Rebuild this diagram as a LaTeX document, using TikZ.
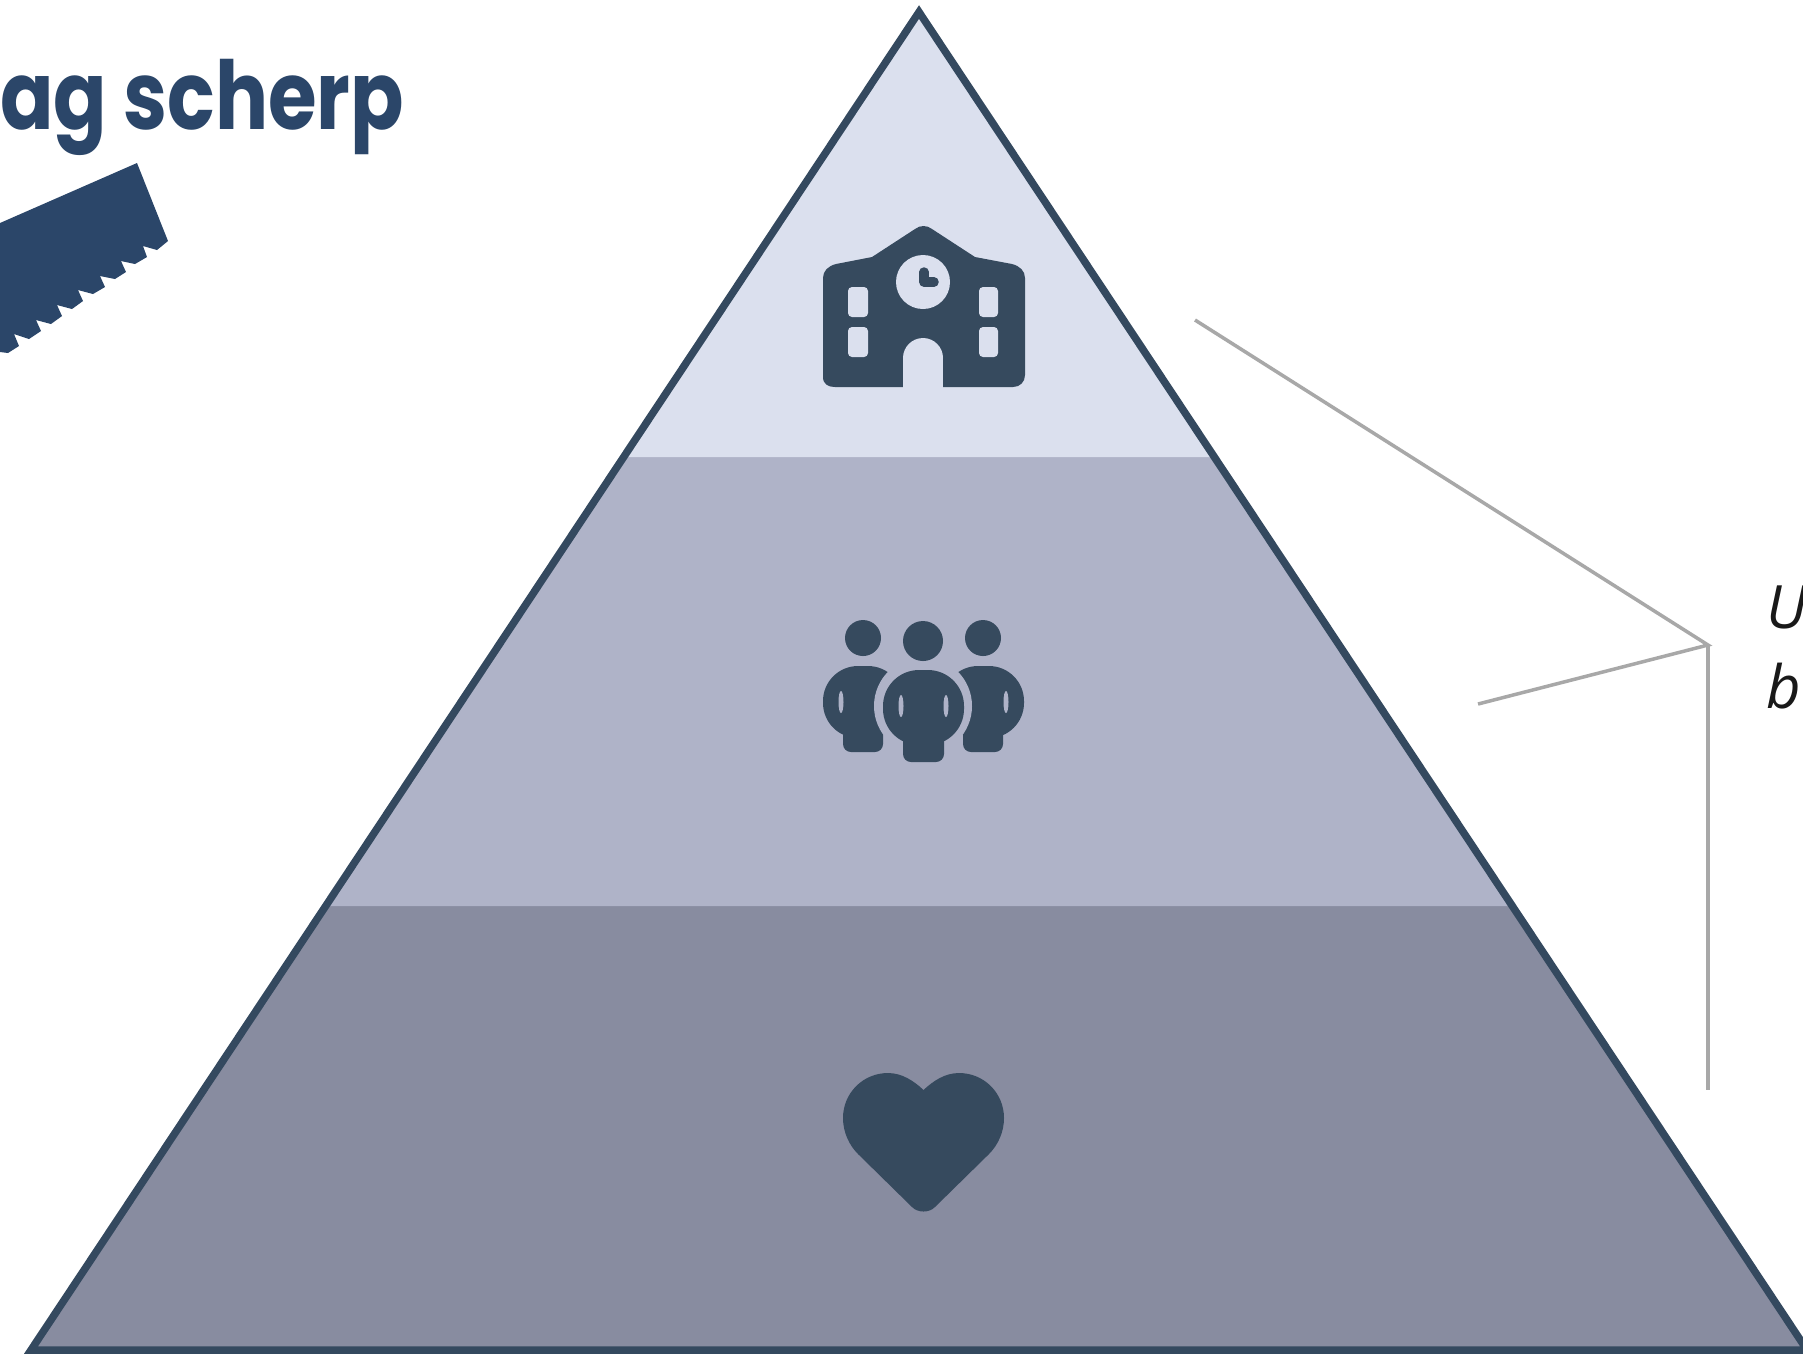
\documentclass[tikz,border=0pt]{standalone}
\usepackage{fontspec}
\setmainfont{Open Sans}
\newfontfamily\titlefont[FakeStretch=0.83]{Poppins}
\usepackage{tikz}

\definecolor{topband}{HTML}{DBE0EE}
\definecolor{midband}{HTML}{AFB3C8}
\definecolor{lowband}{HTML}{888CA0}
\definecolor{iconblue}{HTML}{364A5E}
\definecolor{rimblue}{HTML}{34495F}
\definecolor{sawblue}{HTML}{2B4669}
\definecolor{calloutgray}{HTML}{A8A8A8}

\begin{document}
\begin{tikzpicture}[x=0.01cm,y=-0.01cm,
  every node/.style={inner sep=0pt, outer sep=0pt},
  icon/.style={fill=iconblue},
  callout/.style={draw=calloutgray, line width=0.035cm},
  titletext/.style={text=sawblue, anchor=base west, font=\titlefont\bfseries\fontsize{27}{32}\selectfont},
  sidetext/.style={text=black!90, anchor=base west, font=\itshape\fontsize{17}{20}\selectfont}]
\clip (0,0) rectangle (1803,1353);
\fill[white] (0,0) rectangle (1803,1353);

\fill[lowband] (29,1351) -- (324,906) -- (1514,906) -- (1809,1351) -- cycle;
\fill[midband] (324,906) -- (622,457) -- (1216,457) -- (1514,906) -- cycle;
\fill[topband] (622,457) -- (919,10) -- (1216,457) -- cycle;
\draw[rimblue, line width=0.075cm, line join=miter] (31,1350) -- (919,12) -- (1807,1350) -- cycle;

\node[titletext] (title) at (0,129) {ag scherp};
\fill[sawblue] (0,223) -- (137,163) -- (168,241) -- (157,250) -- (143,246) -- (147,257) -- (135,264)
  -- (121,261) -- (126,272) -- (115,279) -- (100,276) -- (105,287) -- (93,294) -- (78,290) -- (83,301)
  -- (72,309) -- (57,305) -- (62,316) -- (51,324) -- (36,320) -- (41,331) -- (29,339) -- (14,334)
  -- (19,346) -- (8,353) -- (0,352) -- cycle;

% school
\fill[icon] (823,377) -- (823,278) .. controls (823,271) and (828,266) .. (836,264) -- (872,257)
  -- (915,229) .. controls (920,225) and (927,225) .. (932,229) -- (975,257) -- (1012,264)
  .. controls (1020,266) and (1025,271) .. (1025,278) -- (1025,375)
  .. controls (1025,382) and (1020,387) .. (1013,387) -- (835,387)
  .. controls (828,387) and (823,384) .. (823,377) -- cycle;
\fill[topband] (923,282) circle[radius=27];
\draw[iconblue, line width=0.095cm, line cap=round, line join=round] (924,272) -- (924,282) -- (934,282);
\fill[topband] (903,358) rectangle (943,388);
\fill[topband] (923,358) circle[radius=20];
\fill[topband, rounded corners=0.04cm] (848,287) rectangle (868,317);
\fill[topband, rounded corners=0.04cm] (848,327) rectangle (868,357);
\fill[topband, rounded corners=0.04cm] (979,287) rectangle (998,317);
\fill[topband, rounded corners=0.04cm] (979,327) rectangle (998,357);

% people
\fill[icon] (863,638) circle[radius=18];
\fill[icon] (983,638) circle[radius=18];
\fill[icon, rounded corners=0.35cm] (823,666) rectangle (903,738);
\fill[icon, rounded corners=0.35cm] (943,666) rectangle (1024,738);
\fill[icon, rounded corners=0.08cm] (843,720) rectangle (883,752);
\fill[icon, rounded corners=0.08cm] (963,720) rectangle (1003,752);
\fill[midband] (923,706) circle[radius=49];
\fill[icon] (923,641) circle[radius=20];
\fill[icon, rounded corners=0.36cm] (883,670) rectangle (964,745);
\fill[icon, rounded corners=0.08cm] (903,730) rectangle (944,762);
\fill[midband] (841,702) ellipse[x radius=2.5, y radius=11];
\fill[midband] (1006,702) ellipse[x radius=2.5, y radius=11];
\fill[midband] (901,706) ellipse[x radius=2.5, y radius=11];
\fill[midband] (946,706) ellipse[x radius=2.5, y radius=11];

% heart
\fill[icon] (923.5,1090) .. controls (914,1081) and (902,1073) .. (888,1073)
  .. controls (863,1073) and (843,1093) .. (843,1118)
  .. controls (843,1132) and (849,1145) .. (858,1154) -- (912,1207)
  .. controls (918,1213) and (929,1213) .. (935,1207) -- (989,1154)
  .. controls (998,1145) and (1004,1132) .. (1004,1118)
  .. controls (1004,1093) and (984,1073) .. (959,1073)
  .. controls (945,1073) and (933,1081) .. (923.5,1090) -- cycle;

\coordinate (hub) at (1708,645);
\coordinate (tiptop) at (1195,320);
\coordinate (tipmid) at (1478,704);
\coordinate (tiplow) at (1708,1090);
\draw[callout] (tiptop) -- (hub) -- (tipmid);
\draw[callout] (hub) -- (tiplow);

\node[sidetext] (lineone) at (1766,628) {U};
\node[sidetext] (linetwo) at (1766,708) {b};
\end{tikzpicture}
\end{document}
